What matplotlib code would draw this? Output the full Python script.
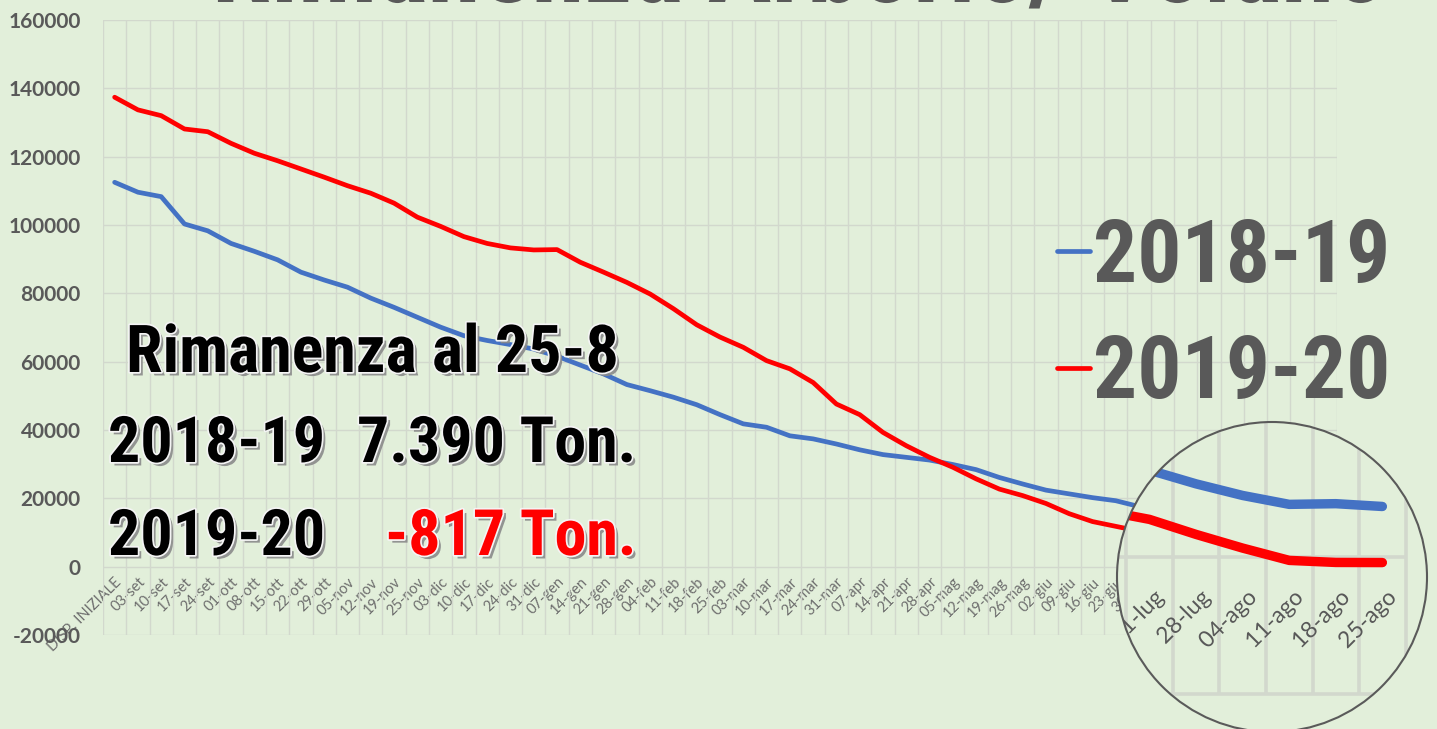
import numpy as np
import matplotlib
matplotlib.use('Agg')
import matplotlib.pyplot as plt
from matplotlib import font_manager as fm
from matplotlib.font_manager import FontProperties
import matplotlib.patches as mpatches
import matplotlib.patheffects as pe
import matplotlib.transforms as mtransforms

# ---------------- data ----------------
categories = ['DISP. INIZIALE', '03-set', '10-set', '17-set', '24-set',
              '01-ott', '08-ott', '15-ott', '22-ott', '29-ott',
              '05-nov', '12-nov', '19-nov', '25-nov',
              '03-dic', '10-dic', '17-dic', '24-dic', '31-dic',
              '07-gen', '14-gen', '21-gen', '28-gen',
              '04-feb', '11-feb', '18-feb', '25-feb',
              '03-mar', '10-mar', '17-mar', '24-mar', '31-mar',
              '07-apr', '14-apr', '21-apr', '28-apr',
              '05-mag', '12-mag', '19-mag', '26-mag',
              '02-giu', '09-giu', '16-giu', '23-giu', '30-giu',
              '07-lug', '14-lug', '21-lug', '28-lug',
              '04-ago', '11-ago', '18-ago', '25-ago']

stock_2018_19 = [112500, 109600, 108300, 100300, 98300, 94600, 92300, 89800, 86200, 83900,
                 81800, 78600, 75900, 73000, 70100, 67600, 66200, 65000, 63700, 61600,
                 59000, 56400, 53300, 51500, 49600, 47400, 44500, 41800, 40800, 38300,
                 37400, 35900, 34200, 32800, 32000, 31200, 29900, 28400, 26100, 24200,
                 22400, 21300, 20200, 19300, 17600, 16100, 14400, 12700, 10700, 9000,
                 7700, 7800, 7390]

stock_2019_20 = [137400, 133700, 132000, 128100, 127300, 123900, 121000, 118800, 116400, 114000,
                 111500, 109300, 106400, 102300, 99600, 96600, 94600, 93300, 92700, 92800,
                 89100, 86200, 83200, 79800, 75500, 70800, 67200, 64200, 60300, 57900,
                 53900, 47600, 44500, 39300, 35400, 32000, 29100, 25700, 22700, 20800,
                 18500, 15500, 13200, 11800, 10400, 8600, 6800, 5500, 3300, 1300,
                 -500, -800, -817]

series_labels = ['2018-19', '2019-20']
y_ticks = list(range(-20000, 160001, 20000))

title_text = 'Rimanenza Arborio/ Volano'
note_head = 'Rimanenza al 25-8'
note_rows = [('2018-19', '7.390 Ton.'), ('2019-20', '-817 Ton.')]

# ---------------- style ----------------
BG = '#e2efda'
GRID = '#d2d8cd'
BLUE = '#4472c4'
RED = '#ff0000'
GRAY = '#595959'


def pick(cands):
    for c in cands:
        try:
            fm.findfont(FontProperties(family=c), fallback_to_default=False)
            return c
        except Exception:
            pass
    return None


NARROW = pick(['Liberation Sans Narrow', 'Roboto Condensed', 'Open Sans Condensed'])
SCALE = 1.0
if NARROW is None:
    NARROW = pick(['Roboto', 'Lato']) or 'DejaVu Sans'
    SCALE = 0.86
REG = pick(['Lato', 'Roboto', 'Open Sans']) or 'DejaVu Sans'

W, H = 1437, 729
fig = plt.figure(figsize=(W / 100, H / 100), dpi=100, facecolor=BG)


def fx(x):
    return x / W


def fy(y):
    return 1 - y / H


# ---------------- main axes ----------------
L, R, T, B = 103, 1337, 20, 635
ax = fig.add_axes([fx(L), fy(B), (R - L) / W, (B - T) / H])
ax.set_facecolor(BG)
n = len(categories)
x = np.arange(n)
ax.set_xlim(-0.5, n - 0.5)
ax.set_ylim(-20000, 160000)
ax.spines['bottom'].set_position(('data', 0))
for s in ax.spines.values():
    s.set_visible(False)

l1, = ax.plot(x, stock_2018_19, color=BLUE, lw=3.4, solid_capstyle='round', zorder=3)
l2, = ax.plot(x, stock_2019_20, color=RED, lw=3.4, solid_capstyle='round', zorder=3)

ax.set_yticks(y_ticks)
ax.set_yticklabels([str(v) for v in y_ticks], fontfamily=REG, fontweight='bold',
                   fontsize=15, color=GRAY)
ax.tick_params(axis='y', length=0, pad=16)

ax.set_xticks(x)
ax.set_xticklabels(categories, rotation=45, ha='right', rotation_mode='anchor',
                   fontfamily=REG, fontsize=10.5, color='#6e6e6e')
ax.set_xticks(np.arange(-0.5, n, 1), minor=True)
ax.tick_params(axis='x', which='both', length=0, pad=6)
ax.grid(which='minor', axis='x', color=GRID, lw=1.0)
ax.grid(which='major', axis='y', color=GRID, lw=1.0)
ax.grid(which='major', axis='x', visible=False)
ax.set_axisbelow(True)

leg = ax.legend(handles=[l1, l2], labels=series_labels, loc='upper left',
                bbox_to_anchor=(fx(1057), fy(216)), bbox_transform=fig.transFigure,
                frameon=False, prop=FontProperties(family=NARROW, weight='bold', size=63 * SCALE),
                labelcolor=GRAY, handlelength=0.38, handletextpad=0.03,
                labelspacing=0.37, borderpad=0, borderaxespad=0)

# ---------------- magnifier ----------------
cx, cy, r = 1272, 577, 155
axm = fig.add_axes([fx(cx - r), fy(cy + r), 2 * r / W, 2 * r / H])
axm.axis('off')
mag = 2.0
cat_px = (R - L) / n
val_px = (B - T) / 180000
sx, sy = mag * cat_px, mag * val_px
xc, yc = 49.63, -2930
axm.set_xlim(xc - r / sx, xc + r / sx)
axm.set_ylim(yc - r / sy, yc + r / sy)

clip = mpatches.Circle((0.5, 0.5), 0.5, transform=axm.transAxes)
axm.add_patch(mpatches.Circle((0.5, 0.5), 0.5, transform=axm.transAxes,
                              facecolor=BG, edgecolor='none', zorder=0))
axm.vlines(np.arange(-0.5, n, 1), -20000, 160000, color=GRID, lw=2.6, zorder=1, clip_path=clip)
axm.hlines(y_ticks, -0.5, n - 0.5, color=GRID, lw=2.6, zorder=1, clip_path=clip)
axm.plot(x, stock_2018_19, color=BLUE, lw=6.8, solid_capstyle='round', zorder=3, clip_path=clip)
axm.plot(x, stock_2019_20, color=RED, lw=6.8, solid_capstyle='round', zorder=3, clip_path=clip)
lab_tr = mtransforms.offset_copy(axm.transData, fig=fig, x=3, y=-30, units='dots')
for i, c in enumerate(categories):
    if i < 45:
        continue
    axm.text(i, 0, c, transform=lab_tr, rotation=45, ha='right', va='top',
             rotation_mode='anchor', fontfamily=REG, fontsize=16.5, color=GRAY,
             clip_on=True, clip_path=clip, path_effects=[pe.Normal()], zorder=4)
axm.add_patch(mpatches.Circle((0.5, 0.5), 0.5, transform=axm.transAxes,
                              facecolor='none', edgecolor='#5a5a5a', lw=1.5,
                              zorder=10, clip_on=False))

# ---------------- texts ----------------
fig.text(fx(800), fy(2), title_text, ha='center', va='baseline', fontfamily=NARROW,
         fontweight='bold', fontsize=77 * SCALE, color=GRAY, path_effects=[pe.Normal()])

fx_eff = [pe.SimplePatchShadow(offset=(2.5, -2.5), shadow_rgbFace='#8a8a8a', alpha=0.9),
          pe.Stroke(linewidth=2.5, foreground='#f4f4f4'), pe.Normal()]
big = dict(fontfamily=NARROW, fontweight='bold', va='baseline',
           ha='left', path_effects=fx_eff)
fig.text(fx(126), fy(372), note_head, color='black', fontsize=47.5 * SCALE, **big)
fig.text(fx(108), fy(462), note_rows[0][0], color='black', fontsize=46 * SCALE, **big)
fig.text(fx(357), fy(462), note_rows[0][1], color='black', fontsize=46 * SCALE, **big)
fig.text(fx(108), fy(555), note_rows[1][0], color='black', fontsize=46 * SCALE, **big)
fig.text(fx(385), fy(555), note_rows[1][1], color=RED, fontsize=46 * SCALE, **big)

fig.savefig('out.png', dpi=100, facecolor=BG)
